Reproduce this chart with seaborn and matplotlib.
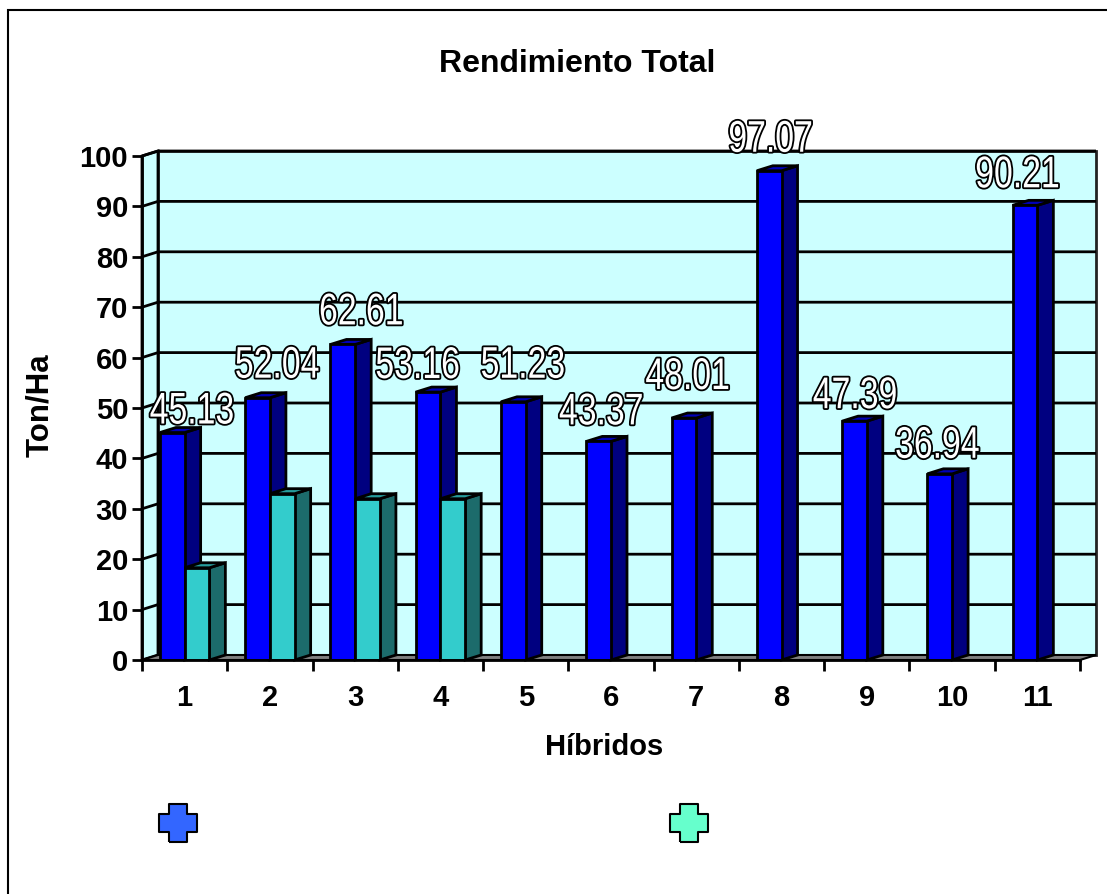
import numpy as np
import pandas as pd
import seaborn as sns
import matplotlib.pyplot as plt
import matplotlib.patheffects as pe
from matplotlib.lines import Line2D
from matplotlib.patches import Polygon, Rectangle
from matplotlib.transforms import Affine2D

# data
hibridos = ["1", "2", "3", "4", "5", "6", "7", "8", "9", "10", "11"]
serie_a = [45.13, 52.04, 62.61, 53.16, 51.23, 43.37, 48.01, 97.07, 47.39, 36.94, 90.21]
serie_b = [18.3, 33.0, 32.0, 32.0, np.nan, np.nan, np.nan, np.nan, np.nan, np.nan, np.nan]
y_ticks = [0, 10, 20, 30, 40, 50, 60, 70, 80, 90, 100]

# layout: nudges of the value labels from the bar top, in pixels
label_dx = [20, 20, 19, -10, 10, 3, 4, 2, 1, -2, -7]
label_dy = [9, 20, 20, 14, 24, 17, 29, 19, 13, 16, 18]

W, H = 1107, 894
sns.set_theme(style="white")
plt.rcParams["font.family"] = ["Liberation Sans", "DejaVu Sans"]

df = pd.DataFrame({
    "hibrido": hibridos * 2,
    "valor": serie_a + serie_b,
    "serie": ["a"] * 11 + ["b"] * 11,
})


# no narrow font installed, so squeeze the glyphs and draw them outlined
class NarrowOutline(pe.AbstractPathEffect):
    def __init__(self, sx, lw):
        super().__init__()
        self.sx = sx
        self.lw = lw

    def draw_path(self, renderer, gc, tpath, affine, rgbFace=None):
        width = tpath.get_extents(affine).width
        squeezed = Affine2D().scale(self.sx, 1) + affine + Affine2D().translate(width * (1 - self.sx) / 2, 0)
        gc0 = renderer.new_gc()
        gc0.copy_properties(gc)
        gc0.set_foreground("black")
        gc0.set_linewidth(self.lw)
        gc0.set_joinstyle("round")
        renderer.draw_path(gc0, tpath, squeezed, (0, 0, 0, 1))
        gc0.restore()
        renderer.draw_path(gc, tpath, squeezed, rgbFace)


fig = plt.figure(figsize=(W / 100, H / 100), dpi=100, facecolor="white")
ax = fig.add_axes([142 / W, (H - 660) / H, 938 / W, 504 / H], facecolor="none")

# 1 | front faces of the bars
sns.barplot(data=df, x="hibrido", y="valor", hue="serie", order=hibridos,
            palette={"a": "#0000FF", "b": "#33CCCC"}, width=0.58, gap=0, saturation=1,
            edgecolor="black", linewidth=2, legend=False, ax=ax, zorder=3)
ax.set_xlim(-0.5, 10.5)
ax.set_ylim(0, 100)

# depth of the fake 3d, in data units
dx = 16 / (938 / 11)
dy = 5 / 5.04
x0, x1 = -0.5, 10.5

# 2 | walls and floor
ax.add_patch(Rectangle((x0 + dx, dy), x1 - x0, 100, fc="#CCFFFF", ec="#222222", lw=2,
                       clip_on=False, zorder=0))
ax.add_patch(Polygon([(x0, 0), (x0 + dx, dy), (x0 + dx, 100 + dy), (x0, 100)],
                     fc="#CCFFFF", ec="black", lw=2, clip_on=False, zorder=0.5))
ax.add_patch(Polygon([(x0, 0), (x0 + dx, dy), (x1 + dx, dy), (x1, 0)],
                     fc="#808080", ec="black", lw=1.5, clip_on=False, zorder=0.6))
for v in y_ticks[1:]:
    ax.plot([x0, x0 + dx, x1 + dx], [v, v + dy, v + dy], color="black", lw=2,
            clip_on=False, zorder=1, solid_capstyle="butt")

# 3 | side and top faces, series b has to cover series a
side_colors = ["#000080", "#1C6B6B"]
top_colors = ["#0000B8", "#269C9C"]
for i, cont in enumerate(ax.containers):
    z = 3 + i
    for bar in cont:
        b_x, b_w, b_h = bar.get_x(), bar.get_width(), bar.get_height()
        if np.isnan(b_h):
            continue
        bar.set_zorder(z + 0.2)
        r = b_x + b_w
        ax.add_patch(Polygon([(r, 0), (r + dx, dy), (r + dx, b_h + dy), (r, b_h)],
                             fc=side_colors[i], ec="black", lw=2, zorder=z, clip_on=False))
        ax.add_patch(Polygon([(b_x, b_h), (b_x + dx, b_h + dy), (r + dx, b_h + dy), (r, b_h)],
                             fc=top_colors[i], ec="black", lw=2, zorder=z, clip_on=False))

# 4 | value labels, white with a black outline
for i, v in enumerate(serie_a):
    bar = ax.containers[0][i]
    ax.annotate(f"{v:.2f}", (bar.get_x() + bar.get_width() / 2, v),
                xytext=(label_dx[i] * 0.72, label_dy[i] * 0.72), textcoords="offset points",
                ha="center", va="baseline", fontsize=32, color="white",
                path_effects=[NarrowOutline(0.76, 2.6)],
                annotation_clip=False, zorder=6)

# 5 | axes
sns.despine(ax=ax, top=True, right=True)
for s in ["left", "bottom"]:
    ax.spines[s].set_linewidth(2)
    ax.spines[s].set_color("black")
    ax.spines[s].set_zorder(7)
ax.set_yticks(y_ticks)
ax.set_xticks(range(11), hibridos)
ax.set_xticks(np.arange(x0, x1 + 1), minor=True)
ax.tick_params(axis="y", length=7, width=2, color="black", left=True, pad=3,
               labelsize=21, labelcolor="black")
ax.tick_params(axis="x", which="major", length=0, pad=17, labelsize=21, labelcolor="black")
ax.tick_params(axis="x", which="minor", length=8, width=2, color="black", bottom=True)
for t in ax.get_xticklabels() + ax.get_yticklabels():
    t.set_fontweight("bold")

ax.set_xlabel("Híbridos", fontsize=21, fontweight="bold", color="black", va="center")
ax.xaxis.set_label_coords((604 - 142) / 938, -(747 - 660) / 504)
ax.set_ylabel("Ton/Ha", fontsize=22.5, fontweight="bold", color="black", va="center")
ax.yaxis.set_label_coords((40 - 142) / 938, (660 - 405) / 504)
ax.set_title("Rendimiento Total", fontsize=23, fontweight="bold", color="black",
             x=(577 - 142) / 938, y=(660 - 64) / 504, va="center", pad=0)

# 6 | legend markers (no text in the original) and outer frame
arm = 0.48
cross = [(-arm, -1), (arm, -1), (arm, -arm), (1, -arm), (1, arm), (arm, arm),
         (arm, 1), (-arm, 1), (-arm, arm), (-1, arm), (-1, -arm), (-arm, -arm), (-arm, -1)]
for px, col in [(177.5, "#3366FF"), (689, "#66FFCC")]:
    fig.add_artist(Line2D([px / W], [(H - 823) / H], marker=cross, markersize=28,
                          mfc=col, mec="black", mew=1.5, linestyle="none",
                          transform=fig.transFigure))
fig.add_artist(Rectangle((8 / W, -0.1), 1.2, (H - 10) / H + 0.1, fc="none", ec="black", lw=1.5,
                         transform=fig.transFigure))

plt.savefig("out.png", dpi=100)
plt.close()
